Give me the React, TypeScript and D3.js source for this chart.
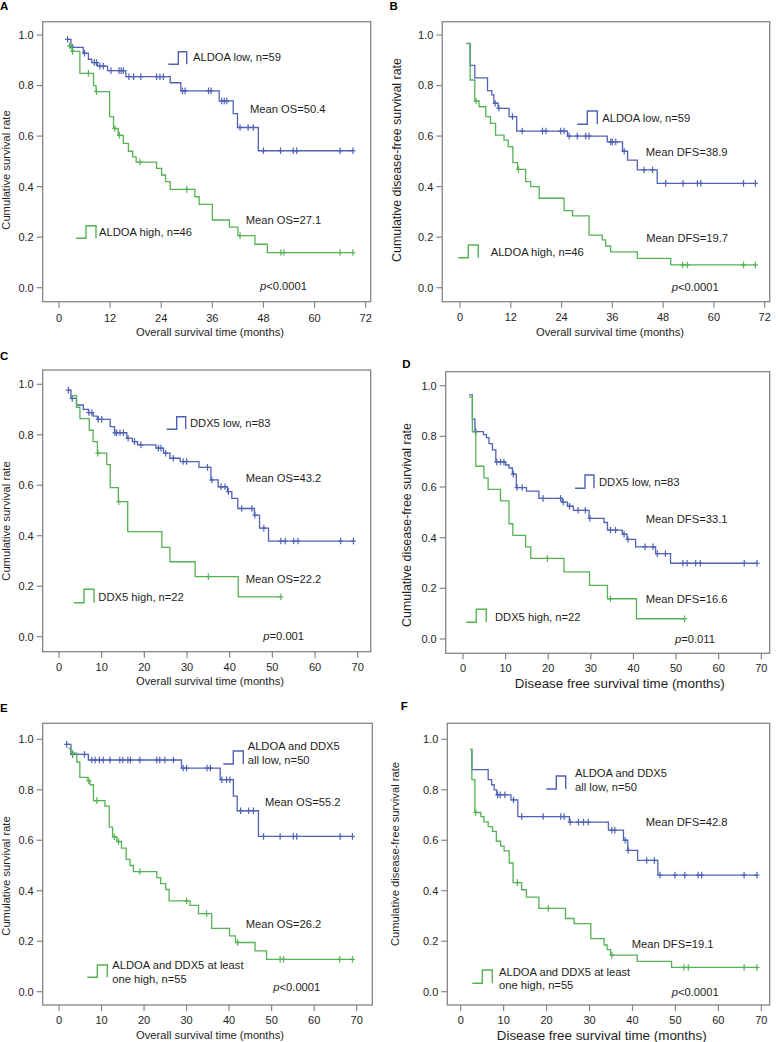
import React from "react";
import * as d3 from "d3";

const BLUE = "#5062b6";
const GREEN = "#55b255";
const FONT = "Arial, 'Liberation Sans', Helvetica, sans-serif";
const TEXT = "#1e1e1e";

const xTicks72 = [0, 12, 24, 36, 48, 60, 72];
const xTicks70 = [0, 10, 20, 30, 40, 50, 60, 70];
const yTicks = [0, 0.2, 0.4, 0.6, 0.8, 1.0];

// ---- Panel A : OS by ALDOA ----
const aLowTimes = [2.0, 2.8, 5.7, 6.9, 7.7, 9.0, 11.4, 15.7, 26.1, 28.6, 37.6, 40.9, 41.9, 46.8];
const aLowSurv = [0.983, 0.951, 0.928, 0.904, 0.891, 0.877, 0.859, 0.835, 0.811, 0.779, 0.739, 0.689, 0.634, 0.542];
const aLowCensor = [2.0, 3.2, 6.0, 8.3, 8.8, 9.6, 10.4, 12.2, 14.1, 14.6, 15.1, 16.4, 17.5, 19.2, 22.9, 23.7, 24.5, 29.0, 29.6, 35.1, 35.7, 38.2, 38.8, 39.4, 42.5, 44.4, 45.6, 48.0, 52.0, 55.0, 55.8, 66.0, 69.0];
const aHighTimes = [2.2, 3.0, 4.9, 8.1, 8.7, 11.9, 12.8, 13.9, 15.1, 16.3, 17.3, 18.1, 22.9, 24.1, 25.0, 26.1, 31.9, 32.9, 36.0, 40.0, 42.0, 46.0, 48.9];
const aHighSurv = [0.957, 0.935, 0.848, 0.8, 0.776, 0.677, 0.63, 0.603, 0.571, 0.54, 0.518, 0.497, 0.472, 0.446, 0.42, 0.389, 0.36, 0.33, 0.268, 0.24, 0.206, 0.172, 0.139];
const aHighCensor = [2.5, 3.2, 6.9, 8.8, 13.1, 14.2, 19.0, 30.0, 42.5, 52.1, 52.8, 66.0, 69.0];

// ---- Panel B : DFS by ALDOA ----
const bLowTimes = [1.5, 2.4, 3.5, 6.5, 7.5, 8.0, 9.0, 11.6, 13.4, 25.4, 34.8, 38.4, 39.6, 41.9, 46.6];
const bLowSurv = [0.966, 0.88, 0.83, 0.78, 0.763, 0.73, 0.71, 0.677, 0.62, 0.6, 0.577, 0.54, 0.505, 0.466, 0.413];
const bLowCensor = [8.3, 9.2, 12.4, 14.7, 19.5, 20.3, 23.8, 24.6, 25.8, 27.7, 29.7, 30.5, 35.6, 36.0, 36.8, 38.8, 43.5, 45.5, 48.6, 52.7, 56.1, 56.9, 67.0, 69.8];
const bHighTimes = [1.5, 2.4, 3.5, 4.5, 6.1, 7.2, 8.4, 10.4, 11.4, 12.5, 13.6, 15.5, 16.7, 18.7, 24.6, 26.6, 30.5, 33.6, 34.4, 35.6, 41.9, 49.8];
const bHighSurv = [0.967, 0.822, 0.739, 0.716, 0.677, 0.65, 0.604, 0.584, 0.558, 0.495, 0.468, 0.42, 0.4, 0.354, 0.305, 0.284, 0.208, 0.189, 0.165, 0.142, 0.116, 0.09];
const bHighCensor = [3.8, 13.8, 52.6, 53.7, 67.0, 69.8];

// ---- Panel C : OS by DDX5 ----
const cLowTimes = [2.2, 2.8, 4.1, 5.7, 6.9, 8.0, 9.0, 12.0, 13.0, 15.9, 17.2, 18.4, 22.7, 24.5, 26.0, 28.4, 32.8, 35.6, 37.3, 39.5, 40.5, 41.9, 45.8, 47.0, 49.1];
const cLowSurv = [0.977, 0.944, 0.918, 0.901, 0.888, 0.874, 0.861, 0.832, 0.808, 0.786, 0.773, 0.76, 0.747, 0.727, 0.707, 0.694, 0.671, 0.621, 0.594, 0.575, 0.548, 0.508, 0.482, 0.43, 0.379];
const cLowCensor = [2.2, 3.1, 7.0, 7.7, 9.2, 10.0, 13.1, 13.5, 14.3, 15.1, 16.2, 17.7, 19.2, 23.3, 23.9, 25.0, 26.8, 29.1, 29.9, 34.8, 35.8, 38.0, 38.9, 39.7, 42.8, 45.2, 45.9, 48.0, 52.0, 53.0, 55.0, 56.0, 66.0, 69.0];
const cHighTimes = [2.6, 4.1, 4.9, 7.1, 8.0, 9.0, 11.2, 12.0, 13.9, 16.1, 24.1, 26.0, 31.9, 42.0];
const cHighSurv = [0.955, 0.909, 0.864, 0.818, 0.773, 0.727, 0.682, 0.591, 0.535, 0.416, 0.354, 0.297, 0.238, 0.158];
const cHighCensor = [9.1, 14.0, 35.0, 52.0];

// ---- Panel D : DFS by DDX5 ----
const dLowTimes = [1.4, 2.2, 2.8, 4.8, 5.5, 6.1, 6.9, 7.7, 10.0, 10.8, 11.6, 12.5, 14.9, 17.8, 23.3, 24.5, 25.9, 29.6, 33.1, 33.9, 37.4, 38.5, 40.5, 45.2, 48.7];
const dLowSurv = [0.964, 0.868, 0.819, 0.807, 0.795, 0.771, 0.747, 0.699, 0.687, 0.675, 0.651, 0.598, 0.584, 0.555, 0.54, 0.524, 0.508, 0.476, 0.46, 0.43, 0.414, 0.393, 0.364, 0.337, 0.299];
const dLowCensor = [3.0, 7.9, 8.8, 9.6, 11.8, 12.7, 13.9, 18.8, 22.9, 23.5, 25.0, 27.0, 28.7, 29.8, 34.6, 35.8, 37.8, 38.7, 42.7, 44.6, 45.6, 47.5, 51.6, 52.6, 54.6, 55.7, 66.0, 69.0];
const dHighTimes = [1.4, 2.2, 3.0, 4.9, 5.9, 8.8, 10.8, 11.7, 14.7, 15.9, 23.7, 29.7, 33.9, 40.7];
const dHighSurv = [0.955, 0.818, 0.682, 0.636, 0.591, 0.545, 0.455, 0.409, 0.364, 0.318, 0.265, 0.212, 0.159, 0.08];
const dHighCensor = [19.8, 34.6, 52.0];

// ---- Panel E : OS by ALDOA + DDX5 ----
const eLowTimes = [1.8, 2.8, 6.9, 28.8, 37.9, 41.0, 41.9, 46.9];
const eLowSurv = [0.98, 0.94, 0.918, 0.886, 0.84, 0.775, 0.717, 0.615];
const eLowCensor = [1.8, 3.2, 6.0, 7.7, 8.5, 9.5, 10.4, 12.0, 14.3, 15.0, 16.2, 16.8, 19.0, 23.0, 23.7, 24.9, 26.9, 29.2, 30.0, 34.8, 35.6, 38.3, 39.4, 40.2, 42.7, 44.6, 45.7, 48.1, 52.0, 55.1, 55.9, 66.1, 69.0];
const eHighTimes = [2.2, 2.8, 4.2, 4.9, 6.8, 7.3, 8.1, 10.8, 11.8, 12.6, 13.6, 14.7, 15.8, 16.7, 17.5, 23.0, 23.9, 25.1, 25.9, 30.8, 32.8, 35.9, 40.1, 41.5, 46.1, 48.8];
const eHighSurv = [0.964, 0.945, 0.909, 0.849, 0.836, 0.82, 0.757, 0.735, 0.652, 0.614, 0.595, 0.569, 0.524, 0.5, 0.476, 0.452, 0.428, 0.405, 0.36, 0.342, 0.309, 0.251, 0.221, 0.195, 0.162, 0.128];
const eHighCensor = [3.2, 7.0, 8.9, 13.0, 14.0, 19.0, 30.0, 34.7, 42.0, 52.0, 52.8, 66.0, 69.0];

// ---- Panel F : DFS by ALDOA + DDX5 ----
const fLowTimes = [2.2, 2.6, 6.4, 7.2, 7.8, 8.4, 11.7, 13.3, 25.3, 34.4, 37.9, 38.9, 41.2, 45.9];
const fLowSurv = [0.96, 0.88, 0.84, 0.82, 0.8, 0.78, 0.76, 0.694, 0.672, 0.64, 0.6, 0.56, 0.52, 0.462];
const fLowCensor = [8.6, 9.2, 10.3, 12.3, 14.2, 19.2, 23.3, 24.1, 25.5, 27.4, 28.6, 29.7, 35.2, 35.9, 38.3, 39.0, 43.3, 45.1, 46.4, 49.9, 52.2, 55.3, 56.1, 66.0, 69.0];
const fHighTimes = [2.2, 2.6, 3.3, 4.7, 5.4, 6.4, 7.4, 8.3, 9.3, 10.1, 11.3, 12.2, 14.2, 15.3, 18.2, 24.4, 26.4, 30.3, 33.4, 34.1, 34.9, 41.1, 49.1];
const fHighSurv = [0.96, 0.84, 0.71, 0.694, 0.673, 0.654, 0.635, 0.596, 0.577, 0.558, 0.51, 0.432, 0.404, 0.375, 0.33, 0.29, 0.27, 0.21, 0.185, 0.167, 0.145, 0.12, 0.096];
const fHighCensor = [3.5, 13.2, 20.4, 35.2, 52.0, 53.0, 66.0, 69.0];

type Curve = { times: number[]; surv: number[]; censor: number[]; color: string };
type Legend = { color: string; x0: number; xm: number; x1: number; yTop: number; yBot: number; tx: number; lines: { text: string; y: number }[] };
type Note = { text: string; x: number; y: number };
type PanelCfg = {
  letter: string; letterX: number; letterY: number;
  frame: [number, number, number, number];
  xRange: [number, number]; xMax: number; xTicks: number[];
  yRange: [number, number];
  tickLabelY: number;
  xTitle: string; xTitleX: number; xTitleY: number; xTitleSize: number;
  yTitle: string; yTitleX: number; yTitleY: number; yTitleSize: number;
  curves: Curve[]; legends: Legend[]; notes: Note[];
  pText: { rest: string; x: number; y: number };
};

const OS_TITLE = "Overall survival time (months)";
const DFS_TITLE = "Disease free survival time (months)";
const Y_OS = "Cumulative survival rate";
const Y_DFS = "Cumulative disease-free survival rate";

const panels: PanelCfg[] = [
  {
    letter: "A", letterX: 0, letterY: 10,
    frame: [42.7, 21.7, 370.7, 301.7], xRange: [59, 365.7], xMax: 72, xTicks: xTicks72,
    yRange: [287.7, 35], tickLabelY: 322,
    xTitle: OS_TITLE, xTitleX: 210, xTitleY: 335.5, xTitleSize: 11.2,
    yTitle: Y_OS, yTitleX: 9.5, yTitleY: 170, yTitleSize: 11.2,
    curves: [
      { times: aLowTimes, surv: aLowSurv, censor: aLowCensor, color: BLUE },
      { times: aHighTimes, surv: aHighSurv, censor: aHighCensor, color: GREEN },
    ],
    legends: [
      { color: BLUE, x0: 168.3, xm: 178.3, x1: 186.7, yTop: 51.7, yBot: 64.3, tx: 193, lines: [{ text: "ALDOA low, n=59", y: 61 }] },
      { color: GREEN, x0: 76, xm: 86, x1: 96, yTop: 225.7, yBot: 238.3, tx: 99, lines: [{ text: "ALDOA high, n=46", y: 236 }] },
    ],
    notes: [
      { text: "Mean OS=50.4", x: 250, y: 113 },
      { text: "Mean OS=27.1", x: 245.7, y: 224 },
    ],
    pText: { rest: "<0.0001", x: 260, y: 290 },
  },
  {
    letter: "B", letterX: 389.5, letterY: 10,
    frame: [442.3, 21.7, 769.7, 301.7], xRange: [460, 764.7], xMax: 72, xTicks: xTicks72,
    yRange: [287.7, 35], tickLabelY: 320.5,
    xTitle: OS_TITLE, xTitleX: 610, xTitleY: 336, xTitleSize: 11.2,
    yTitle: Y_DFS, yTitleX: 401, yTitleY: 160, yTitleSize: 12.4,
    curves: [
      { times: bLowTimes, surv: bLowSurv, censor: bLowCensor, color: BLUE },
      { times: bHighTimes, surv: bHighSurv, censor: bHighCensor, color: GREEN },
    ],
    legends: [
      { color: BLUE, x0: 577.3, xm: 587.3, x1: 597.3, yTop: 111, yBot: 124.3, tx: 602.3, lines: [{ text: "ALDOA low, n=59", y: 122 }] },
      { color: GREEN, x0: 458.3, xm: 468.3, x1: 478.3, yTop: 245, yBot: 257.7, tx: 490.7, lines: [{ text: "ALDOA high, n=46", y: 255.5 }] },
    ],
    notes: [
      { text: "Mean DFS=38.9", x: 645.7, y: 155.5 },
      { text: "Mean DFS=19.7", x: 646.3, y: 242 },
    ],
    pText: { rest: "<0.0001", x: 671.7, y: 290.5 },
  },
  {
    letter: "C", letterX: 0, letterY: 360,
    frame: [42.7, 370, 370.7, 651.7], xRange: [59, 357.7], xMax: 70, xTicks: xTicks70,
    yRange: [636.7, 384.3], tickLabelY: 670.5,
    xTitle: OS_TITLE, xTitleX: 210, xTitleY: 684.5, xTitleSize: 11.2,
    yTitle: Y_OS, yTitleX: 9.5, yTitleY: 521, yTitleSize: 11.2,
    curves: [
      { times: cLowTimes, surv: cLowSurv, censor: cLowCensor, color: BLUE },
      { times: cHighTimes, surv: cHighSurv, censor: cHighCensor, color: GREEN },
    ],
    legends: [
      { color: BLUE, x0: 166.7, xm: 176.7, x1: 185.7, yTop: 416.7, yBot: 429.3, tx: 190, lines: [{ text: "DDX5 low, n=83", y: 426.5 }] },
      { color: GREEN, x0: 74, xm: 84, x1: 94, yTop: 589.3, yBot: 602.7, tx: 98.3, lines: [{ text: "DDX5 high, n=22", y: 600.5 }] },
    ],
    notes: [
      { text: "Mean OS=43.2", x: 245.7, y: 481.5 },
      { text: "Mean OS=22.2", x: 245.7, y: 583 },
    ],
    pText: { rest: "=0.001", x: 263.3, y: 639.5 },
  },
  {
    letter: "D", letterX: 402.3, letterY: 368.3,
    frame: [445.7, 371.7, 769.7, 653.3], xRange: [463, 761.3], xMax: 70, xTicks: xTicks70,
    yRange: [639, 385.7], tickLabelY: 672,
    xTitle: DFS_TITLE, xTitleX: 619.8, xTitleY: 688, xTitleSize: 13.4,
    yTitle: Y_DFS, yTitleX: 411, yTitleY: 525, yTitleSize: 12.4,
    curves: [
      { times: dLowTimes, surv: dLowSurv, censor: dLowCensor, color: BLUE },
      { times: dHighTimes, surv: dHighSurv, censor: dHighCensor, color: GREEN },
    ],
    legends: [
      { color: BLUE, x0: 575, xm: 585, x1: 594, yTop: 475, yBot: 488.3, tx: 599, lines: [{ text: "DDX5 low, n=83", y: 486 }] },
      { color: GREEN, x0: 466.3, xm: 476.3, x1: 486.3, yTop: 609.3, yBot: 622.3, tx: 495, lines: [{ text: "DDX5 high, n=22", y: 621.3 }] },
    ],
    notes: [
      { text: "Mean DFS=33.1", x: 645.7, y: 523 },
      { text: "Mean DFS=16.6", x: 645.7, y: 603 },
    ],
    pText: { rest: "=0.011", x: 675, y: 642.7 },
  },
  {
    letter: "E", letterX: 0, letterY: 711.7,
    frame: [42.7, 723.3, 372.3, 1005], xRange: [59, 356.7], xMax: 70, xTicks: xTicks70,
    yRange: [991.7, 739.3], tickLabelY: 1024,
    xTitle: OS_TITLE, xTitleX: 210, xTitleY: 1039, xTitleSize: 11.2,
    yTitle: Y_OS, yTitleX: 9.5, yTitleY: 876, yTitleSize: 11.2,
    curves: [
      { times: eLowTimes, surv: eLowSurv, censor: eLowCensor, color: BLUE },
      { times: eHighTimes, surv: eHighSurv, censor: eHighCensor, color: GREEN },
    ],
    legends: [
      { color: BLUE, x0: 223.3, xm: 233.3, x1: 243.3, yTop: 751, yBot: 764, tx: 247.7, lines: [{ text: "ALDOA and DDX5", y: 750 }, { text: "all low, n=50", y: 764 }] },
      { color: GREEN, x0: 87.3, xm: 97.3, x1: 107.3, yTop: 965, yBot: 977.3, tx: 112.3, lines: [{ text: "ALDOA and DDX5 at least", y: 969 }, { text: "one high, n=55", y: 982.5 }] },
    ],
    notes: [
      { text: "Mean OS=55.2", x: 265, y: 805.5 },
      { text: "Mean OS=26.2", x: 245.7, y: 928 },
    ],
    pText: { rest: "<0.0001", x: 273.3, y: 990.5 },
  },
  {
    letter: "F", letterX: 400.7, letterY: 710,
    frame: [447.3, 723.3, 769.7, 1005], xRange: [460.7, 761.3], xMax: 70, xTicks: xTicks70,
    yRange: [991.7, 739.3], tickLabelY: 1024,
    xTitle: DFS_TITLE, xTitleX: 601.7, xTitleY: 1040, xTitleSize: 13.4,
    yTitle: Y_DFS, yTitleX: 399, yTitleY: 854, yTitleSize: 11.2,
    curves: [
      { times: fLowTimes, surv: fLowSurv, censor: fLowCensor, color: BLUE },
      { times: fHighTimes, surv: fHighSurv, censor: fHighCensor, color: GREEN },
    ],
    legends: [
      { color: BLUE, x0: 546.3, xm: 556.3, x1: 565.7, yTop: 776, yBot: 789, tx: 575, lines: [{ text: "ALDOA and DDX5", y: 777 }, { text: "all low, n=50", y: 791 }] },
      { color: GREEN, x0: 472.3, xm: 482.3, x1: 492.3, yTop: 970, yBot: 983.3, tx: 499, lines: [{ text: "ALDOA and DDX5 at least", y: 975.5 }, { text: "one high, n=55", y: 989 }] },
    ],
    notes: [
      { text: "Mean DFS=42.8", x: 645.7, y: 825.5 },
      { text: "Mean DFS=19.1", x: 631.7, y: 947.5 },
    ],
    pText: { rest: "<0.0001", x: 671.7, y: 996 },
  },
];

function survAt(times: number[], surv: number[], t: number) {
  let v = surv[0];
  for (let i = 0; i < times.length; i++) if (times[i] <= t + 1e-9) v = surv[i];
  return v;
}

function Panel({ p }: { p: PanelCfg }) {
  const x = d3.scaleLinear().domain([0, p.xMax]).range(p.xRange);
  const y = d3.scaleLinear().domain([0, 1]).range(p.yRange);
  const [fl, ft, fr, fb] = p.frame;
  const line = d3
    .line<[number, number]>()
    .x((d) => x(d[0]))
    .y((d) => y(d[1]))
    .curve(d3.curveStepAfter);
  const fmt = d3.format(".1f");
  return (
    <g>
      <text x={p.letterX} y={p.letterY} fontSize={11.5} fontWeight="bold" fill="#000" fontFamily={FONT}>
        {p.letter}
      </text>
      <rect x={fl} y={ft} width={fr - fl} height={fb - ft} fill="#fff" stroke="#858585" strokeWidth={1.3} />
      {yTicks.map((v) => (
        <g key={"y" + v}>
          <line x1={fl - 6} x2={fl} y1={y(v)} y2={y(v)} stroke="#858585" strokeWidth={1.2} />
          <text x={fl - 9} y={y(v) + 3.9} textAnchor="end" fontSize={11} fill={TEXT} fontFamily={FONT}>
            {fmt(v)}
          </text>
        </g>
      ))}
      {p.xTicks.map((v) => (
        <g key={"x" + v}>
          <line x1={x(v)} x2={x(v)} y1={fb} y2={fb + 6} stroke="#858585" strokeWidth={1.2} />
          <text x={x(v)} y={p.tickLabelY} textAnchor="middle" fontSize={11} fill={TEXT} fontFamily={FONT}>
            {v}
          </text>
        </g>
      ))}
      <text x={p.xTitleX} y={p.xTitleY} textAnchor="middle" fontSize={p.xTitleSize} fill={TEXT} fontFamily={FONT}>
        {p.xTitle}
      </text>
      <text
        transform={`translate(${p.yTitleX},${p.yTitleY}) rotate(-90)`}
        textAnchor="middle"
        fontSize={p.yTitleSize}
        fill={TEXT}
        fontFamily={FONT}
      >
        {p.yTitle}
      </text>
      {p.curves.map((c, ci) => {
        const end = Math.max(c.times[c.times.length - 1], d3.max(c.censor) ?? 0);
        const pts: [number, number][] = c.times.map((t, i) => [t, c.surv[i]] as [number, number]);
        pts.push([end, c.surv[c.surv.length - 1]]);
        return (
          <g key={"c" + ci}>
            <path d={line(pts) ?? ""} fill="none" stroke={c.color} strokeWidth={1.3} />
            {c.censor.map((t, k) => {
              const cx = x(t);
              const cy = y(survAt(c.times, c.surv, t));
              return (
                <g key={k} stroke={c.color} strokeWidth={1.2}>
                  <line x1={cx} x2={cx} y1={cy - 3.3} y2={cy + 3.3} />
                  <line x1={cx - 2.5} x2={cx + 2.5} y1={cy} y2={cy} />
                </g>
              );
            })}
          </g>
        );
      })}
      {p.legends.map((l, li) => (
        <g key={"l" + li}>
          <path
            d={`M${l.x0},${l.yBot}H${l.xm}V${l.yTop}H${l.x1}V${l.yBot}`}
            fill="none"
            stroke={l.color}
            strokeWidth={1.4}
          />
          {l.lines.map((ln, k) => (
            <text key={k} x={l.tx} y={ln.y} fontSize={11.2} fill={TEXT} fontFamily={FONT}>
              {ln.text}
            </text>
          ))}
        </g>
      ))}
      {p.notes.map((n, ni) => (
        <text key={"n" + ni} x={n.x} y={n.y} fontSize={11.2} fill={TEXT} fontFamily={FONT}>
          {n.text}
        </text>
      ))}
      <text x={p.pText.x} y={p.pText.y} fontSize={11.2} fill={TEXT} fontFamily={FONT}>
        <tspan fontStyle="italic">p</tspan>
        {p.pText.rest}
      </text>
    </g>
  );
}

export default function App() {
  return (
    <svg
      width={779}
      height={1042}
      viewBox="0 0 779 1042"
      style={{ position: "absolute", left: 0, top: 0, background: "#fff" }}
    >
      <rect x={0} y={0} width={779} height={1042} fill="#fff" />
      {panels.map((p) => (
        <Panel key={p.letter} p={p} />
      ))}
    </svg>
  );
}
